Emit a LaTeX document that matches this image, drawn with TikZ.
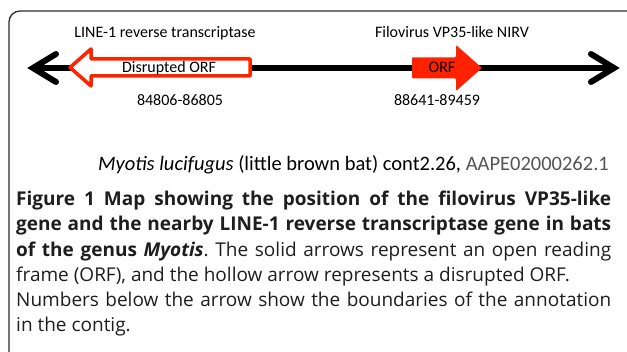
\documentclass[tikz,border=0pt]{standalone}
\usepackage{fontspec}
\setmainfont{Open Sans}
\newfontfamily\calfont{Carlito}
\frenchspacing
\definecolor{orfred}{RGB}{255,34,0}
\definecolor{framegray}{RGB}{45,45,45}
\definecolor{accgray}{RGB}{85,85,85}
\definecolor{captext}{RGB}{30,30,30}
\tikzset{
  lbl/.style={font=\calfont\fontsize{16}{18}\selectfont, inner sep=0pt, anchor=base},
  myline/.style={font=\calfont\fontsize{20.5}{23}\selectfont, inner sep=0pt, anchor=base east},
  capline/.style={anchor=base west, inner sep=0pt, font=\fontsize{19}{23}\selectfont\frenchspacing, text=captext},
  hollowarrow/.style={draw=orfred, line width=3.5pt, fill=white, line join=round},
  solidarrow/.style={fill=orfred, rounded corners=1pt},
  chev/.style={line width=6pt, line cap=round, line join=miter},
  axisline/.style={line width=6pt},
  framebox/.style={draw=framegray, line width=1.3pt, rounded corners=11pt}
}
\begin{document}
\begin{tikzpicture}[x=1pt,y=-1pt]
\useasboundingbox (0,0) rectangle (627,352);
\clip (0,0) rectangle (627,352);
\fill[white] (0,0) rectangle (627,352);
% frame
\draw[framebox] (9,11) rectangle (660,380);
% axis
\coordinate (lend) at (33,68);
\coordinate (rend) at (614,68);
\draw[axisline] (lend) -- (rend);
\draw[chev] ([shift={(23,-14)}]lend) -- (lend) -- ([shift={(23,14)}]lend);
\draw[chev] ([shift={(-23,-14)}]rend) -- (rend) -- ([shift={(-23,14)}]rend);
% hollow arrow (disrupted ORF)
\draw[hollowarrow] (70,67.5) -- (91,49) -- (91,59) -- (250,59) -- (250,76) -- (91,76) -- (91,86) -- cycle;
% solid arrow (ORF)
\fill[solidarrow] (412,57.5) -- (456,57.5) -- (456,45) -- (482,68) -- (456,91) -- (456,78.5) -- (412,78.5) -- cycle;
% labels
\node[lbl] (line1) at (165,37.5) {LINE-1 reverse transcriptase};
\node[lbl] (filo) at (452,37.5) {Filovirus VP35-like NIRV};
\node[lbl] (disr) at (169,73) {Disrupted ORF};
\node[lbl] (orf) at (442,73) {ORF};
\node[lbl] (num1) at (180,106) {84806-86805};
\node[lbl] (num2) at (437,106) {88641-89459};
\node[myline] (myotis) at (609,171) {\textit{Myotis lucifugus} (little brown bat) cont2.26, \textcolor{accgray}{AAPE02000262.1}};
% caption
\node[capline] (c1) at (16,205.5) {\makebox[595pt][s]{\textbf{Figure 1 Map showing the position of the filovirus VP35-like}}};
\node[capline] (c2) at (16,230.8) {\makebox[595pt][s]{\textbf{gene and the nearby LINE-1 reverse transcriptase gene in bats}}};
\node[capline] (c3) at (16,256.1) {\makebox[595pt][s]{\textbf{of the genus \textit{Myotis}}. The solid arrows represent an open reading}};
\node[capline] (c4) at (16,281.4) {frame (ORF), and the hollow arrow represents a disrupted ORF.};
\node[capline] (c5) at (16,306.7) {\makebox[595pt][s]{Numbers below the arrow show the boundaries of the annotation}};
\node[capline] (c6) at (16,332) {in the contig.};
\end{tikzpicture}
\end{document}
